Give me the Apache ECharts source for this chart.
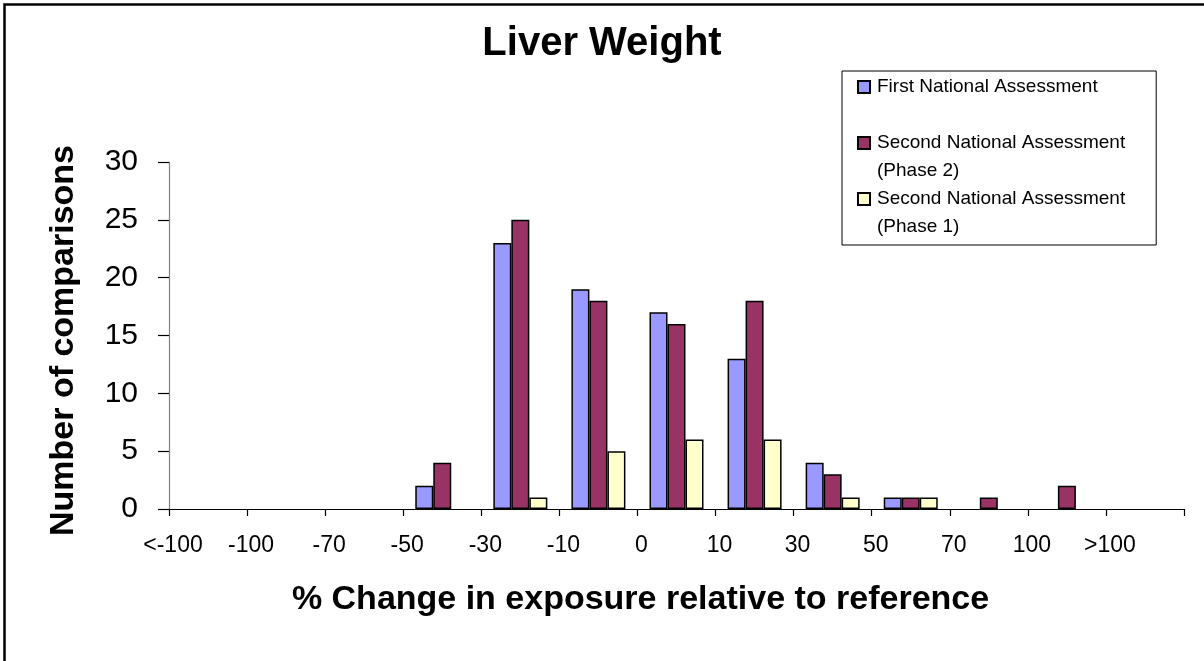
<!DOCTYPE html>
<html>
<head>
<meta charset="utf-8">
<script src="https://cdn.jsdelivr.net/npm/echarts@6/dist/echarts.min.js"></script>
<style>
html,body{margin:0;padding:0;background:#fff;}
#chart{width:1204px;height:661px;}
</style>
</head>
<body>
<div id="chart"></div>
<script>
// ---- data ----
var categories = ['<-100', '-100', '-70', '-50', '-30', '-10', '0', '10', '30', '50', '70', '100', '>100'];
var tickLabels = ['<-100', '-100', '-70', '-50', '-30', '-10', '0', '10', '30', '50', '70', '100', '>100', ''];
var seriesNames = ['First National Assessment', 'Second National Assessment (Phase 2)', 'Second National Assessment (Phase 1)'];
var firstNational = [0, 0, 0, 2, 23, 19, 17, 13, 4, 1, 0, 0, 0];
var secondPhase2 = [0, 0, 0, 4, 25, 18, 16, 18, 3, 1, 1, 2, 0];
var secondPhase1 = [0, 0, 0, 0, 1, 5, 6, 6, 1, 1, 0, 0, 0];
var yTicks = [0, 5, 10, 15, 20, 25, 30];

var FONT = 'Liberation Sans, Arial, Helvetica, sans-serif';
var colors = ['#9999FF', '#993366', '#FFFFCC'];
var seriesData = [firstNational, secondPhase2, secondPhase1];

var chart = echarts.init(document.getElementById('chart'), null, {renderer: 'canvas'});

var series = seriesNames.map(function (n, i) {
  return {
    name: n,
    type: 'bar',
    xAxisIndex: 0,
    barWidth: 18,
    barGap: '0%',
    // zero counts are not drawn (no empty outline on the axis)
    data: seriesData[i].map(function (v) { return v === 0 ? '-' : v; }),
    itemStyle: {color: colors[i], borderColor: '#000', borderWidth: 1.5},
    emphasis: {disabled: true},
    animation: false
  };
});

var option = {
  animation: false,
  color: colors,
  title: {
    text: 'Liver Weight',
    left: 'center',
    top: 19,
    textStyle: {fontFamily: FONT, fontSize: 40, fontWeight: 'bold', color: '#000'}
  },
  legend: {
    orient: 'vertical',
    left: 842,
    top: 71,
    padding: [2, 31, 4, 15],
    itemGap: 0,
    itemWidth: 12,
    itemHeight: 40,
    icon: 'path://M0,0L12,0L12,12L0,12Z M0,40',
    borderColor: '#000',
    borderWidth: 1,
    backgroundColor: '#fff',
    selectedMode: false,
    data: seriesNames,
    formatter: function (name) {
      return name.indexOf(' (') >= 0 ? name.replace(' (', '\n(') : name + '\n ';
    },
    textStyle: {fontFamily: FONT, fontSize: 19, color: '#000', lineHeight: 28, padding: [0, 0, 0, 2]}
  },
  grid: {left: 169, right: 20, top: 162, bottom: 152, containLabel: false},
  xAxis: [
    {
      type: 'category',
      data: categories,
      boundaryGap: true,
      axisLine: {lineStyle: {color: '#000', width: 1.2}},
      axisTick: {show: true, interval: 0, length: 7, lineStyle: {color: '#000', width: 1.2}},
      axisLabel: {show: false},
      splitLine: {show: false},
      name: '% Change in exposure relative to reference',
      nameLocation: 'middle',
      nameGap: 74,
      nameTextStyle: {fontFamily: FONT, fontSize: 34, fontWeight: 'bold', color: '#000', padding: [0, 72, 0, 0]}
    },
    {
      type: 'category',
      data: tickLabels,
      boundaryGap: false,
      position: 'bottom',
      axisLine: {show: false},
      axisTick: {show: false},
      splitLine: {show: false},
      axisLabel: {
        interval: 0,
        margin: 25,
        fontFamily: FONT,
        fontSize: 23,
        color: '#000',
        padding: [0, 0, 0, 8]
      }
    }
  ],
  yAxis: {
    type: 'value',
    min: yTicks[0],
    max: yTicks[yTicks.length - 1],
    interval: 5,
    axisLine: {show: true, lineStyle: {color: '#808080', width: 1.2}},
    axisTick: {show: true, length: 11, lineStyle: {color: '#000', width: 1.2}},
    splitLine: {show: false},
    axisLabel: {margin: 31, fontFamily: FONT, fontSize: 30, color: '#000'},
    name: 'Number of comparisons',
    nameLocation: 'middle',
    nameGap: 88,
    nameTextStyle: {fontFamily: FONT, fontSize: 34, fontWeight: 'bold', color: '#000', padding: [0, 10, 0, 0]}
  },
  graphic: [
    {
      type: 'rect',
      silent: true,
      z: 100,
      shape: {x: 4.5, y: 4.5, width: 1400, height: 900},
      style: {fill: 'none', stroke: '#000', lineWidth: 2.5}
    }
  ],
  series: series
};

chart.setOption(option);
</script>
</body>
</html>
